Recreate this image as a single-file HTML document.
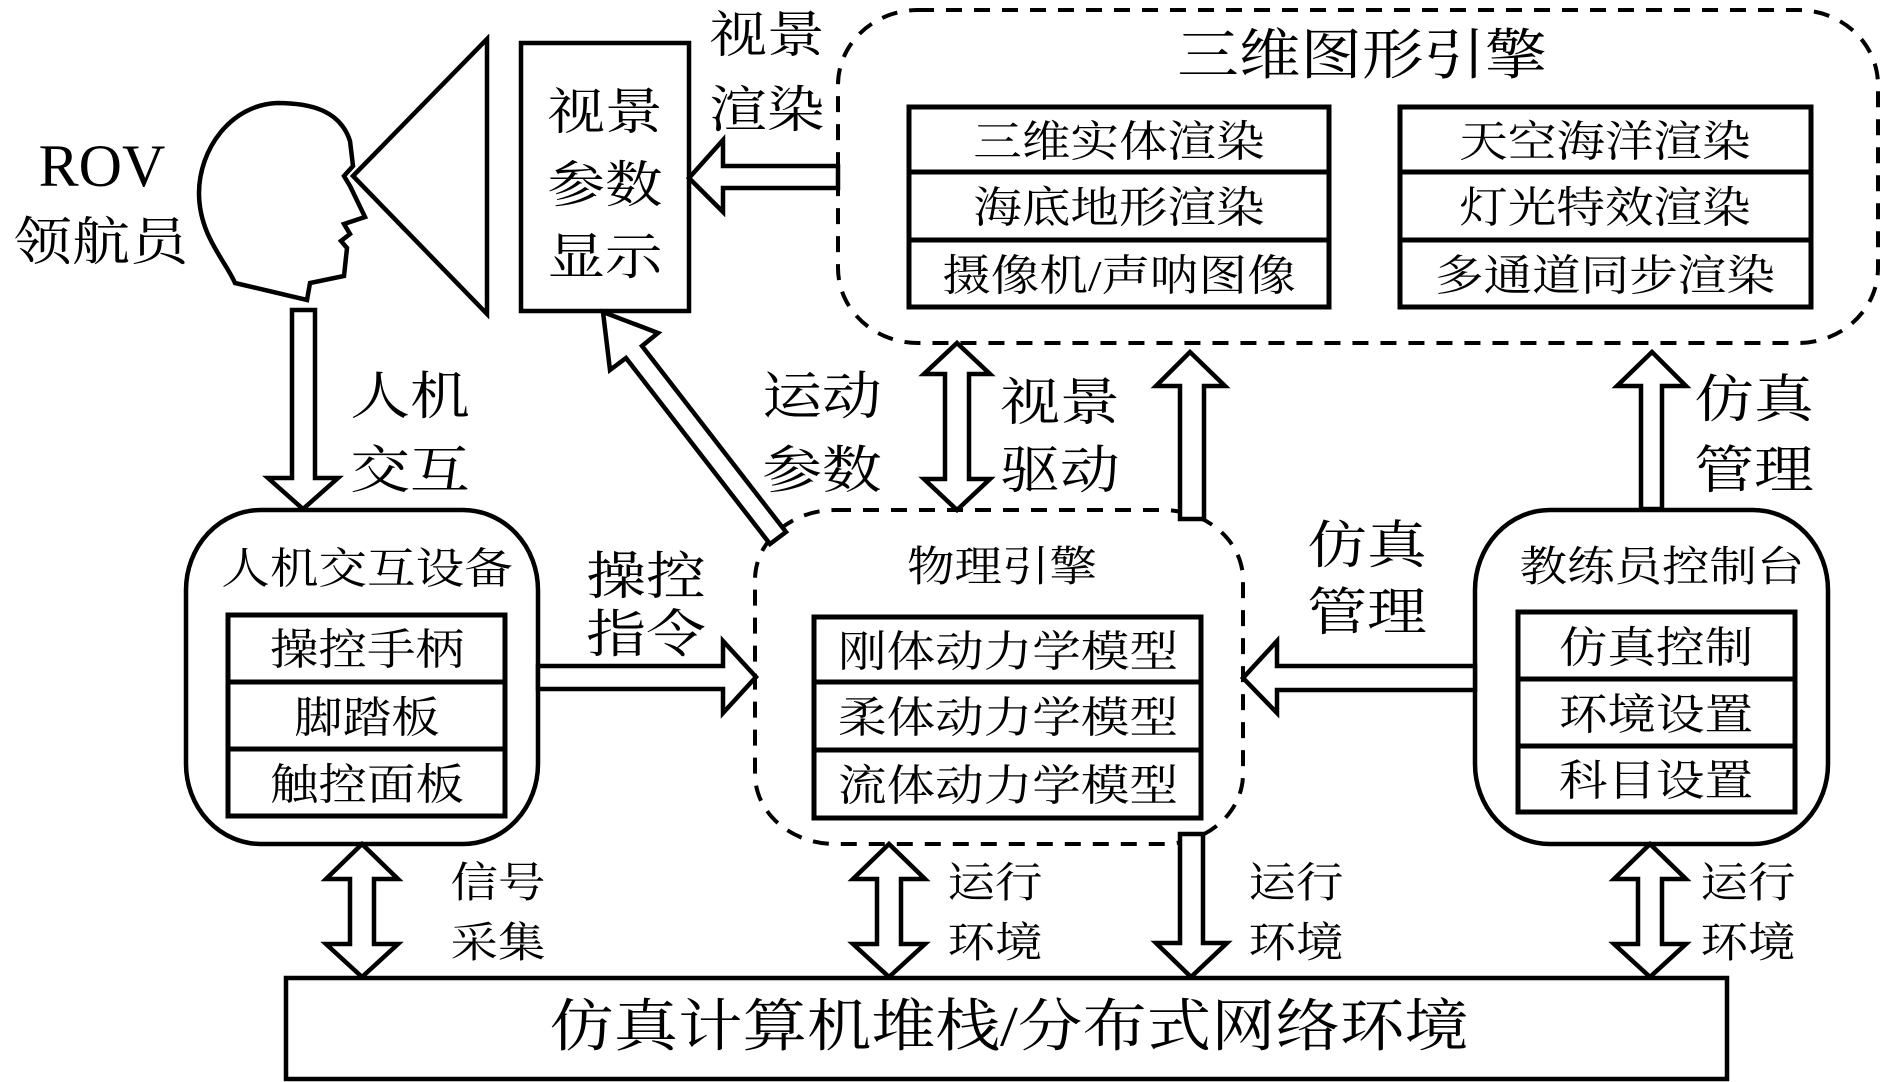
<!DOCTYPE html>
<html><head><meta charset="utf-8"><style>
html,body{margin:0;padding:0;background:#fff;}
svg{display:block;}
text{font-family:"Liberation Serif","Noto Serif CJK SC",serif;fill:#000;}
</style></head><body>
<svg width="1890" height="1082" viewBox="0 0 1890 1082" xmlns="http://www.w3.org/2000/svg">
<g fill="none" stroke="#000" stroke-width="4">
<!-- head -->
<path d="M235,283 L307,300 L310,283 L344,276 L347,248 L341,241 L350,234 L344,224 L365,217 L350,186 L344,176 L353,166 L350,141 C340,110 310,103 277,103 C230,105 199,150 199,193 C199,235 225,260 235,283 Z" stroke-width="4.5"/>
<!-- view triangle -->
<polygon points="353,176 487,39 487,314" stroke-width="4.5"/>
<!-- display box -->
<rect x="521" y="43" width="168" height="268" stroke-width="4.5"/>
<!-- 3D engine dashed -->
<rect x="838" y="10" width="1040" height="333" rx="80" ry="75" stroke-dasharray="16,12"/>
<!-- physics dashed -->
<rect x="755" y="510" width="488" height="334" rx="80" ry="70" stroke-dasharray="16,12"/>
<!-- HMI box -->
<rect x="186" y="510" width="352" height="334" rx="75" ry="80" stroke-width="4.5"/>
<!-- coach box -->
<rect x="1475" y="510" width="353" height="334" rx="75" ry="80" stroke-width="4.5"/>
<!-- bottom bar -->
<rect x="286" y="978" width="1441" height="101" stroke-width="4.5"/>
</g>
<g fill="none" stroke="#000" stroke-width="5">
<!-- engine tables -->
<rect x="909" y="107" width="420" height="200"/>
<line x1="909" y1="172" x2="1329" y2="172"/><line x1="909" y1="240" x2="1329" y2="240"/>
<rect x="1400" y="107" width="411" height="200"/>
<line x1="1400" y1="172" x2="1811" y2="172"/><line x1="1400" y1="240" x2="1811" y2="240"/>
<!-- HMI table -->
<rect x="228" y="615" width="277" height="201"/>
<line x1="228" y1="682" x2="505" y2="682"/><line x1="228" y1="749" x2="505" y2="749"/>
<!-- physics table -->
<rect x="814" y="617" width="387" height="201"/>
<line x1="814" y1="682" x2="1201" y2="682"/><line x1="814" y1="750" x2="1201" y2="750"/>
<!-- coach table -->
<rect x="1518" y="612" width="277" height="200"/>
<line x1="1518" y1="679" x2="1795" y2="679"/><line x1="1518" y1="746" x2="1795" y2="746"/>
</g>
<!-- arrows -->
<g fill="#fff" stroke="#000" stroke-width="4.5" stroke-linejoin="miter">
<polygon points="292,310 315,310 315,478 338,478 303,509 268,478 292,478"/>
<polygon points="838,166 723,166 723,140 689,178 723,212 723,188 838,188"/>
<polygon points="538,666 723,666 723,641 756,677 723,713 723,689 538,689"/>
<polygon points="1475,666 1277,666 1277,641 1243,678 1277,713 1277,690 1475,690"/>
<polygon points="786,532 642,346 658,333 603,312 610,370 626,358 770,544"/>
<polygon points="1180,519 1180,386 1156,386 1190,352 1225,386 1204,386 1204,519"/>
<polygon points="1641,509 1641,386 1617,386 1652,352 1686,386 1662,386 1662,509"/>
<polygon points="1180,834 1203,834 1203,943 1227,943 1191,977 1156,943 1180,943"/>
<polygon points="957,343 990,374 969,374 969,479 990,479 957,510 924,479 945,479 945,374 924,374"/>
<polygon points="362,844 398,879 374,879 374,944 398,944 362,977 326,944 350,944 350,879 326,879"/>
<polygon points="889,844 925,879 901,879 901,944 925,944 889,977 853,944 877,944 877,879 853,879"/>
<polygon points="1650,844 1686,879 1662,879 1662,944 1686,944 1650,977 1614,944 1638,944 1638,879 1614,879"/>
</g>
<!-- texts -->
<g text-anchor="middle">
<text x="102" y="165" dy="0.35em" font-size="60">ROV</text>
<text transform="translate(101,240) scale(1.12,1)" dy="0.38em" font-size="52">领航员</text>

<text transform="translate(605,110) scale(1.15,1)" dy="0.38em" font-size="50">视景</text>
<text transform="translate(605,183) scale(1.15,1)" dy="0.38em" font-size="50">参数</text>
<text transform="translate(605,255) scale(1.15,1)" dy="0.38em" font-size="50">显示</text>

<text transform="translate(767,33) scale(1.15,1)" dy="0.38em" font-size="50">视景</text>
<text transform="translate(767,108) scale(1.15,1)" dy="0.38em" font-size="50">渲染</text>
<text transform="translate(410,394) scale(1.15,1)" dy="0.38em" font-size="52">人机</text>
<text transform="translate(410,468) scale(1.15,1)" dy="0.38em" font-size="52">交互</text>
<text transform="translate(822,394) scale(1.15,1)" dy="0.38em" font-size="52">运动</text>
<text transform="translate(822,468) scale(1.15,1)" dy="0.38em" font-size="52">参数</text>
<text transform="translate(1060,400) scale(1.15,1)" dy="0.38em" font-size="52">视景</text>
<text transform="translate(1060,468) scale(1.15,1)" dy="0.38em" font-size="52">驱动</text>
<text transform="translate(1754,397) scale(1.15,1)" dy="0.38em" font-size="52">仿真</text>
<text transform="translate(1754,468) scale(1.15,1)" dy="0.38em" font-size="52">管理</text>
<text transform="translate(1367,543) scale(1.15,1)" dy="0.38em" font-size="52">仿真</text>
<text transform="translate(1367,610) scale(1.15,1)" dy="0.38em" font-size="52">管理</text>
<text transform="translate(646,574) scale(1.15,1)" dy="0.38em" font-size="52">操控</text>
<text transform="translate(646,632) scale(1.15,1)" dy="0.38em" font-size="52">指令</text>

<text transform="translate(1362,53) scale(1.12,1)" dy="0.38em" font-size="55">三维图形引擎</text>
<text transform="translate(1119,140) scale(1.13,1)" dy="0.38em" font-size="43">三维实体渲染</text>
<text transform="translate(1119,206) scale(1.13,1)" dy="0.38em" font-size="43">海底地形渲染</text>
<text transform="translate(1119,274) scale(1.13,1)" dy="0.38em" font-size="43">摄像机/声呐图像</text>
<text transform="translate(1605,140) scale(1.13,1)" dy="0.38em" font-size="43">天空海洋渲染</text>
<text transform="translate(1605,206) scale(1.13,1)" dy="0.38em" font-size="43">灯光特效渲染</text>
<text transform="translate(1605,274) scale(1.13,1)" dy="0.38em" font-size="43">多通道同步渲染</text>

<text transform="translate(367,567) scale(1.13,1)" dy="0.38em" font-size="43">人机交互设备</text>
<text transform="translate(367,648) scale(1.13,1)" dy="0.38em" font-size="43">操控手柄</text>
<text transform="translate(367,716) scale(1.13,1)" dy="0.38em" font-size="43">脚踏板</text>
<text transform="translate(367,783) scale(1.13,1)" dy="0.38em" font-size="43">触控面板</text>

<text transform="translate(1002,565) scale(1.13,1)" dy="0.38em" font-size="42">物理引擎</text>
<text transform="translate(1008,650) scale(1.13,1)" dy="0.38em" font-size="43">刚体动力学模型</text>
<text transform="translate(1008,716) scale(1.13,1)" dy="0.38em" font-size="43">柔体动力学模型</text>
<text transform="translate(1008,784) scale(1.13,1)" dy="0.38em" font-size="43">流体动力学模型</text>

<text transform="translate(1662,565) scale(1.13,1)" dy="0.38em" font-size="42">教练员控制台</text>
<text transform="translate(1656,646) scale(1.13,1)" dy="0.38em" font-size="43">仿真控制</text>
<text transform="translate(1656,713) scale(1.13,1)" dy="0.38em" font-size="43">环境设置</text>
<text transform="translate(1656,779) scale(1.13,1)" dy="0.38em" font-size="43">科目设置</text>

<text transform="translate(498,881) scale(1.13,1)" dy="0.38em" font-size="42">信号</text>
<text transform="translate(498,941) scale(1.13,1)" dy="0.38em" font-size="42">采集</text>
<text transform="translate(995,881) scale(1.13,1)" dy="0.38em" font-size="42">运行</text>
<text transform="translate(995,941) scale(1.13,1)" dy="0.38em" font-size="42">环境</text>
<text transform="translate(1296,881) scale(1.13,1)" dy="0.38em" font-size="42">运行</text>
<text transform="translate(1296,941) scale(1.13,1)" dy="0.38em" font-size="42">环境</text>
<text transform="translate(1748,881) scale(1.13,1)" dy="0.38em" font-size="42">运行</text>
<text transform="translate(1748,941) scale(1.13,1)" dy="0.38em" font-size="42">环境</text>

<text transform="translate(1009,1024) scale(1.13,1)" dy="0.38em" font-size="57">仿真计算机堆栈/分布式网络环境</text>
</g>
</svg>
</body></html>
